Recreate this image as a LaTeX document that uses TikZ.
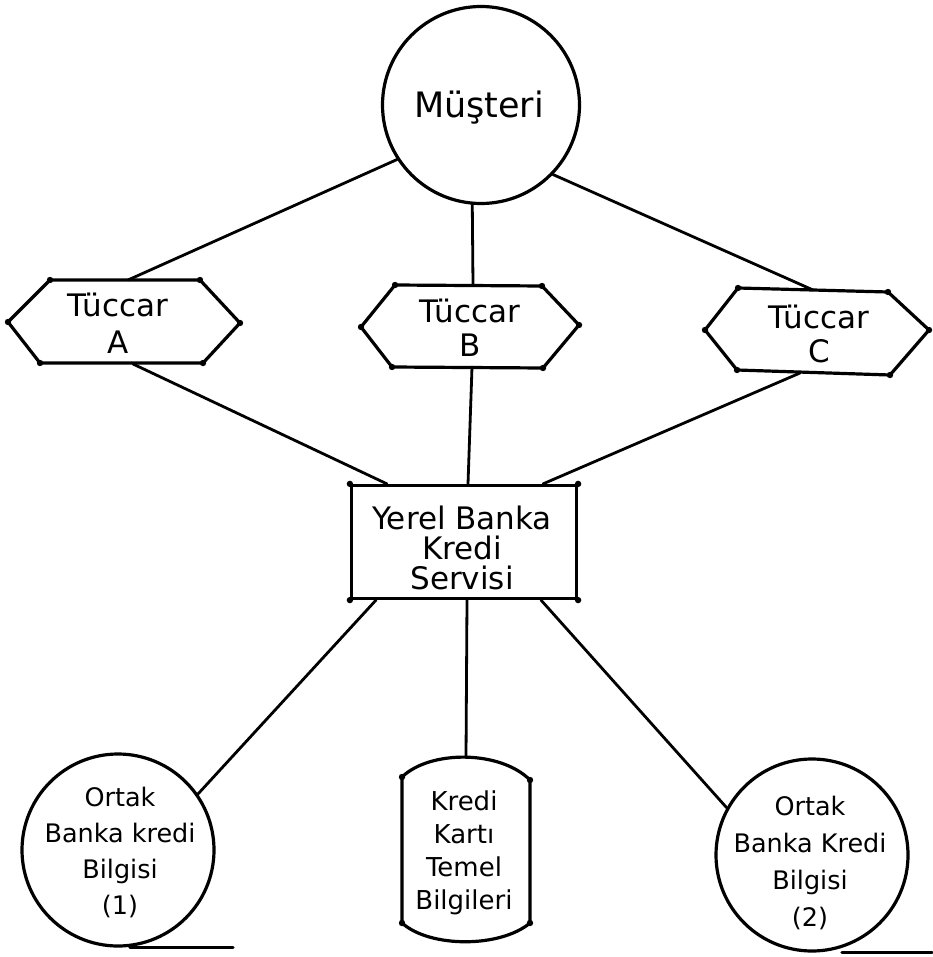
\documentclass[tikz,border=0pt]{standalone}
\usepackage{fontspec}
\setmainfont{DejaVu Sans}
\begin{document}
\begin{tikzpicture}[x=1pt,y=-1pt,
  ink/.style={line width=3.2pt, line join=round, line cap=round},
  wire/.style={line width=2.8pt, line cap=round},
  lbl/.style={align=center, inner sep=0pt},
  bigcirc/.style={circle, draw, ink, inner sep=0pt},
]
\useasboundingbox (0,0) rectangle (932,957);

% customer
\node[bigcirc, minimum size=197pt] (mus) at (481,105) {};
\node[lbl, font=\fontsize{35}{40}\selectfont] (must) at (479,108) {Müşteri};

% merchants (hexagons)
\draw[ink] (8,322) -- (50,280) -- (200,280) -- (240,323) -- (203,363) -- (40,363) -- cycle;
\draw[ink] (361,327) -- (395,285) -- (542,286) -- (579,325) -- (543,368) -- (392,367) -- cycle;
\draw[ink] (705,330) -- (738,288) -- (888,292) -- (929,330) -- (890,375) -- (737,370) -- cycle;
\foreach \p in {(8,322),(50,280),(200,280),(240,323),(203,363),(40,363),
                (361,327),(395,285),(542,286),(579,325),(543,368),(392,367),
                (705,330),(738,288),(888,292),(929,330),(890,375),(737,370)}
  \fill \p circle (3.2pt);
\node[lbl, font=\fontsize{31}{37}\selectfont] (ta) at (118,323) {Tüccar\\A};
\node[lbl, font=\fontsize{31}{34}\selectfont] (tb) at (470,328) {Tüccar\\B};
\node[lbl, font=\fontsize{31}{34}\selectfont] (tc) at (819,334) {Tüccar\\C};
\coordinate (aT) at (128,280);
\coordinate (aB) at (133,364);
\coordinate (bT) at (473,285);
\coordinate (bB) at (472,367);
\coordinate (cT) at (813,290);
\coordinate (cB) at (800,373);

% local bank credit service
\node[draw, ink, minimum width=225pt, minimum height=113pt] (yb) at (464,542) {};
\node[lbl, font=\fontsize{31}{30}\selectfont] (ybt) at (462,548) {Yerel Banka\\Kredi\\Servisi};
\foreach \p in {(yb.north west),(yb.north east),(yb.south west),(yb.south east)}
  \fill \p circle (3.2pt);

% shared bank credit information
\node[bigcirc, minimum size=192pt] (c1) at (118,850) {};
\node[lbl, font=\fontsize{25.5}{36}\selectfont] (c1t) at (120,852) {Ortak\\Banka kredi\\Bilgisi\\(1)};
\node[bigcirc, minimum size=192pt] (c2) at (812,855) {};
\node[lbl, font=\fontsize{25.5}{37}\selectfont] (c2t) at (810,863) {Ortak\\Banka Kredi\\Bilgisi\\(2)};
\draw[ink] ([xshift=12pt]c1.south) -- ++(103,0);
\draw[ink] ([xshift=30pt]c2.south) -- ++(90,0);

% credit card master data (barrel)
\draw[ink] (402,777) -- (402,923) .. controls (430,948) and (500,948) .. (530,923)
  -- (530,780) .. controls (500,750) and (430,750) .. (402,777) -- cycle;
\foreach \p in {(402,777),(402,923),(530,923),(530,780)}
  \fill \p circle (3.2pt);
\coordinate (kT) at (466,757);
\node[lbl, font=\fontsize{26}{33}\selectfont] (kk) at (464,853) {Kredi\\Kartı\\Temel\\Bilgileri};

% connectors
\draw[wire] (mus.213) -- (aT);
\draw[wire] (mus.-95) -- (bT);
\draw[wire] (mus.-44) -- (cT);
\draw[wire] (aB) -- ([xshift=-77pt]yb.north);
\draw[wire] (bB) -- ([xshift=4pt]yb.north);
\draw[wire] (cB) -- ([xshift=79pt]yb.north);
\draw[wire] ([xshift=-88pt]yb.south) -- (c1.35);
\draw[wire] ([xshift=3pt]yb.south) -- (kT);
\draw[wire] ([xshift=77pt]yb.south) -- (c2.151);
\end{tikzpicture}
\end{document}
